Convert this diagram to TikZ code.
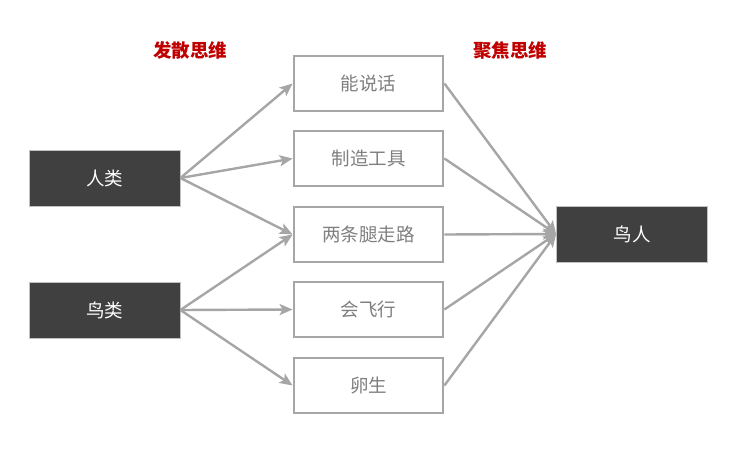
\documentclass[tikz,border=0pt]{standalone}
\usepackage{fontspec}
\setmainfont{Noto Sans CJK SC}
\usetikzlibrary{arrows.meta}
\definecolor{darkbox}{HTML}{404040}
\definecolor{linegray}{HTML}{A6A6A6}
\definecolor{txtgray}{HTML}{7F7F7F}
\definecolor{titlered}{HTML}{C00000}
\begin{document}
\begin{tikzpicture}[x=1pt,y=-1pt,
  darknode/.style={draw=linegray!70,line width=0.8pt,fill=darkbox,text=white,minimum width=151pt,minimum height=56pt,inner sep=0pt,font=\fontsize{18.5}{22}\selectfont},
  midnode/.style={draw=linegray,line width=2.8pt,fill=white,text=txtgray,minimum width=149pt,minimum height=55pt,inner sep=0pt,font=\fontsize{18.5}{22}\selectfont},
  titlenode/.style={text=titlered,font=\fontsize{18.5}{22}\selectfont\bfseries},
  conn/.style={draw=linegray,line width=2.4pt,-{Stealth[length=13pt,width=11pt,inset=3pt]}}]
\useasboundingbox (0,0) rectangle (737,452);
\node[titlenode] (t1) at (190,50) {发散思维};
\node[titlenode] (t2) at (510,50) {聚焦思维};
\node[darknode] (ren) at (104.5,178) {人类};
\node[darknode] (niao) at (104.5,310) {鸟类};
\node[midnode] (m1) at (368.5,83.5) {能说话};
\node[midnode] (m2) at (368.5,158.5) {制造工具};
\node[midnode] (m3) at (368.5,234.5) {两条腿走路};
\node[midnode] (m4) at (368.5,309.5) {会飞行};
\node[midnode] (m5) at (368.5,385.5) {卵生};
\node[darknode] (nr) at (632,234) {鸟人};
\foreach \m in {m1,m2,m3} \draw[conn] (ren.east) -- (\m.west);
\foreach \m in {m3,m4,m5} \draw[conn] (niao.east) -- (\m.west);
\foreach \m in {m1,m2,m3,m4,m5} \draw[conn] (\m.east) -- (nr.west);
\end{tikzpicture}
\end{document}
